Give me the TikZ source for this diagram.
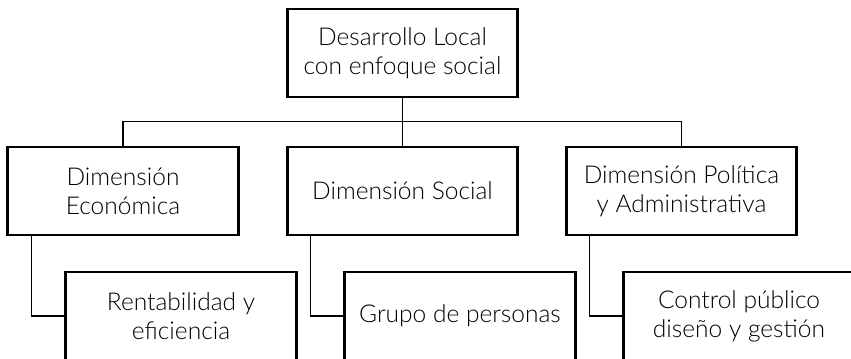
\documentclass[tikz,border=0pt]{standalone}
\usepackage{fontspec}
\setmainfont{Lato}[UprightFont=*-Light]
\begin{document}
\begin{tikzpicture}[x=0.75pt, y=-0.75pt,
  box/.style={draw, line width=2.2pt, minimum width=173pt, minimum height=66pt,
    inner sep=0pt, align=center, font=\fontsize{18.4}{21.75}\selectfont},
  link/.style={line width=0.8pt}]
  \useasboundingbox (0,0) rectangle (851,359);

  % Draw top node
  \node[box] (local) at (402.5,53) {Desarrollo Local\\con enfoque social};

  % Draw dimensions
  \node[box] (eco) at (123,191) {Dimensión\\Económica};
  \node[box] (soc) at (402.5,191) {Dimensión Social};
  \node[box] (pol) at (681.5,191) {Dimensión Política\\y Administrativa};

  % Draw contents
  \node[box] (ren) at (181,316) {Rentabilidad y\\eficiencia};
  \node[box] (gru) at (460,316) {Grupo de personas};
  \node[box] (con) at (739,316) {Control público\\diseño y gestión};

  % Draw links
  \draw[link] (local) -- (soc);
  \draw[link] (eco.north) -- ++(0,-24) -| (pol.north);
  \draw[link] ([xshift=18.75pt]eco.south west) |- (ren.west);
  \draw[link] ([xshift=18.75pt]soc.south west) |- (gru.west);
  \draw[link] ([xshift=18.75pt]pol.south west) |- (con.west);
\end{tikzpicture}
\end{document}
